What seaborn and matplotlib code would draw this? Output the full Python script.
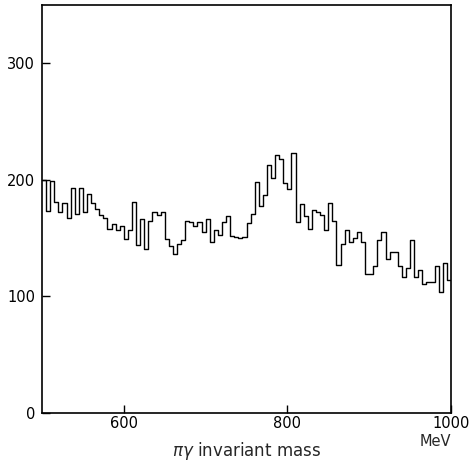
import numpy as np
import pandas as pd
import matplotlib
matplotlib.use("Agg")
import matplotlib.pyplot as plt
import seaborn as sns

# Histogram: pi-gamma invariant mass, 5 MeV bins from 500 to 1000 MeV
bin_start = 500
bin_width = 5
counts = [200, 173, 199, 181, 172, 180, 167, 193, 171, 193,
          172, 188, 180, 175, 170, 167, 158, 162, 157, 160,
          149, 157, 181, 144, 166, 141, 165, 172, 170, 172,
          149, 143, 136, 145, 148, 165, 164, 160, 164, 155,
          166, 147, 157, 153, 164, 169, 152, 151, 150, 151,
          163, 171, 198, 178, 187, 213, 202, 221, 218, 197,
          192, 223, 164, 179, 169, 158, 174, 172, 170, 157,
          180, 165, 127, 145, 157, 147, 150, 155, 147, 119,
          119, 126, 148, 155, 132, 138, 138, 126, 117, 124,
          148, 117, 123, 111, 112, 112, 126, 104, 129, 114]
xticks = [600, 800, 1000]
yticks = [0, 100, 200, 300]

centers = [bin_start + bin_width * (i + 0.5) for i in range(len(counts))]
df = pd.DataFrame({"mass": centers, "n": counts})

sns.set_style("ticks")
plt.rcParams["font.family"] = ["DejaVu Sans"]

fig = plt.figure(figsize=(4.73, 4.66), dpi=100)
ax = fig.add_axes([42 / 473, 53 / 466, 409 / 473, 408 / 466])

sns.histplot(data=df, x="mass", weights="n", bins=len(counts),
             binrange=(bin_start, bin_start + bin_width * len(counts)),
             element="step", fill=False, color="black", linewidth=1.0, ax=ax)

ax.set_xlim(500, 1000)
ax.set_ylim(0, 350)
ax.set_xticks(xticks)
ax.set_yticks(yticks)
ax.set_xticklabels([str(t) for t in xticks])
ax.set_yticklabels([str(t) for t in yticks])
ax.tick_params(direction="in", length=6, width=1.0, colors="black",
               labelsize=10.5, top=False, right=False)
ax.tick_params(axis="x", pad=2.5)
ax.tick_params(axis="y", pad=5)
for s in ax.spines.values():
    s.set_visible(True)
    s.set_color("black")
    s.set_linewidth(1.2)

ax.set_ylabel("")
ax.set_xlabel("")
ax.text(0.5, -0.093, r"$\pi\gamma$ invariant mass", transform=ax.transAxes,
        ha="center", va="center", fontsize=12)
ax.text(1.0, -0.071, "MeV", transform=ax.transAxes, ha="right", va="center",
        fontsize=10.5)

fig.savefig("out.png", dpi=100)
